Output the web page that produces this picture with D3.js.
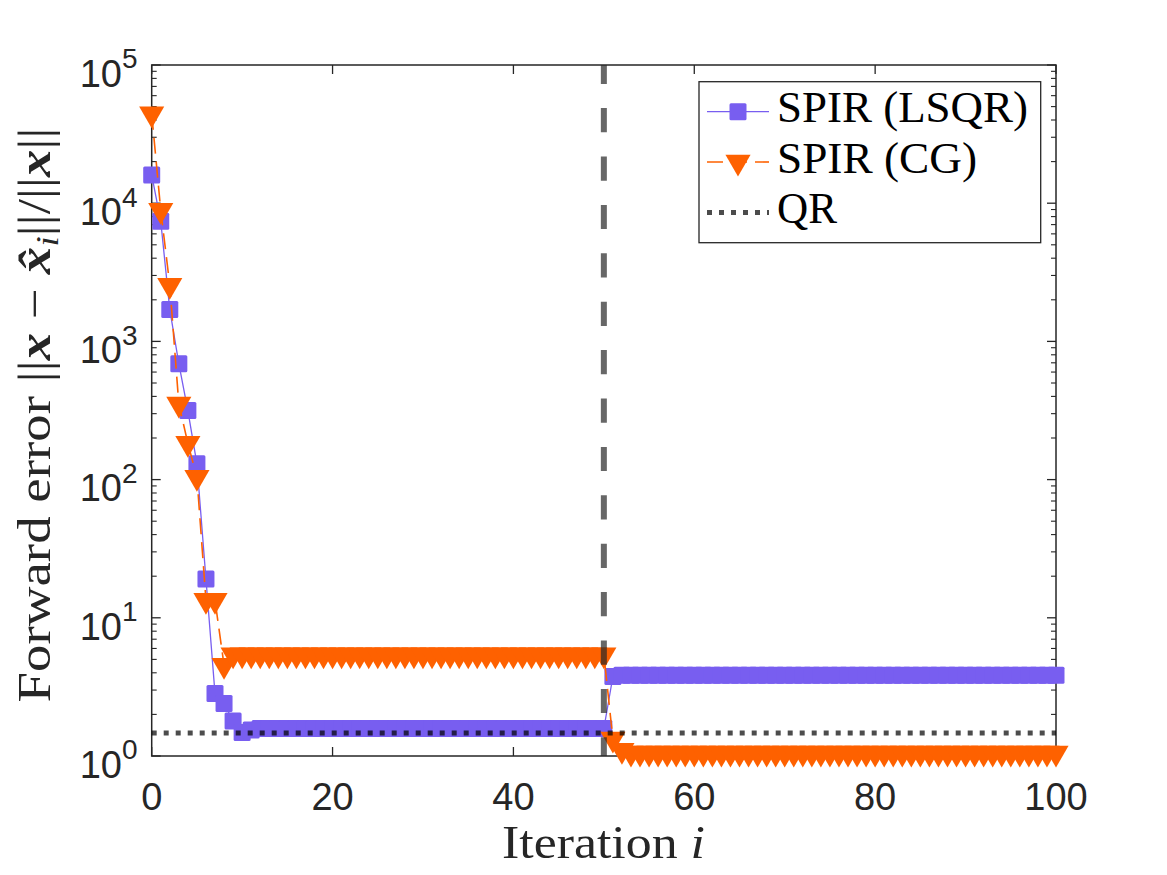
<!DOCTYPE html>
<html>
<head>
<meta charset="utf-8">
<script src="https://cdn.jsdelivr.net/npm/d3@7"></script>
<style>
  html, body { margin: 0; padding: 0; background: #ffffff; }
  svg { display: block; }
</style>
</head>
<body>
<script>
// ---------------- data ----------------
const iterations = d3.range(0, 101);
const lsqr = [
  16000, 7400, 1700, 690, 316, 130, 19.1, 2.83, 2.40, 1.79,
  1.48, 1.54, 1.58, 1.58, 1.58, 1.58, 1.58, 1.58, 1.58, 1.58,
  1.58, 1.58, 1.58, 1.58, 1.58, 1.58, 1.58, 1.58, 1.58, 1.58,
  1.58, 1.58, 1.58, 1.58, 1.58, 1.58, 1.58, 1.58, 1.58, 1.58,
  1.58, 1.58, 1.58, 1.58, 1.58, 1.58, 1.58, 1.58, 1.58, 1.58,
  1.58, 3.76, 3.84, 3.84, 3.84, 3.84, 3.84, 3.84, 3.84, 3.84,
  3.84, 3.84, 3.84, 3.84, 3.84, 3.84, 3.84, 3.84, 3.84, 3.84,
  3.84, 3.84, 3.84, 3.84, 3.84, 3.84, 3.84, 3.84, 3.84, 3.84,
  3.84, 3.84, 3.84, 3.84, 3.84, 3.84, 3.84, 3.84, 3.84, 3.84,
  3.84, 3.84, 3.84, 3.84, 3.84, 3.84, 3.84, 3.84, 3.84, 3.84,
  3.84
];
const cg = [
  44300, 8900, 2550, 353, 183, 104, 13.4, 13.4, 4.53, 5.4,
  5.4, 5.4, 5.4, 5.4, 5.4, 5.4, 5.4, 5.4, 5.4, 5.4,
  5.4, 5.4, 5.4, 5.4, 5.4, 5.4, 5.4, 5.4, 5.4, 5.4,
  5.4, 5.4, 5.4, 5.4, 5.4, 5.4, 5.4, 5.4, 5.4, 5.4,
  5.4, 5.4, 5.4, 5.4, 5.4, 5.4, 5.4, 5.4, 5.4, 5.4,
  5.4, 1.33, 1.10, 1.05, 1.05, 1.05, 1.05, 1.05, 1.05, 1.05,
  1.05, 1.05, 1.05, 1.05, 1.05, 1.05, 1.05, 1.05, 1.05, 1.05,
  1.05, 1.05, 1.05, 1.05, 1.05, 1.05, 1.05, 1.05, 1.05, 1.05,
  1.05, 1.05, 1.05, 1.05, 1.05, 1.05, 1.05, 1.05, 1.05, 1.05,
  1.05, 1.05, 1.05, 1.05, 1.05, 1.05, 1.05, 1.05, 1.05, 1.05,
  1.05
];
const qrValue = 1.47;
const switchIter = 50;
const xTicks = [0, 20, 40, 60, 80, 100];
const yExponents = [0, 1, 2, 3, 4, 5];
const legendLabels = ["SPIR (LSQR)", "SPIR (CG)", "QR"];

// ---------------- layout ----------------
const W = 1167, H = 875;
const L = 151.7, R = 1056, T = 65, B = 756;
const axisColor = "#262626";
const purple = "#785EF0", orange = "#FE6100";
const sans = "'Liberation Sans', Arial, Helvetica, sans-serif";
const serif = "'Liberation Serif', 'Times New Roman', serif";

const svg = d3.select("body").append("svg")
  .attr("width", W).attr("height", H);
svg.append("rect").attr("width", W).attr("height", H).attr("fill", "#fff");

const x = d3.scaleLinear().domain([0, 100]).range([L, R]);
const y = d3.scaleLog().domain([1, 1e5]).range([B, T]);

// ---------------- axes box + ticks ----------------
const axes = svg.append("g");
const majorLen = 9, minorLen = 5;
xTicks.forEach(v => {
  axes.append("line").attr("x1", x(v)).attr("x2", x(v)).attr("y1", B).attr("y2", B - majorLen)
    .attr("stroke", axisColor).attr("stroke-width", 1.3);
  axes.append("line").attr("x1", x(v)).attr("x2", x(v)).attr("y1", T).attr("y2", T + majorLen)
    .attr("stroke", axisColor).attr("stroke-width", 1.3);
  axes.append("text").attr("x", x(v)).attr("y", 810)
    .attr("text-anchor", "middle").attr("font-family", sans).attr("font-size", 38)
    .attr("fill", axisColor).text(v);
});
yExponents.forEach(e => {
  const v = Math.pow(10, e);
  [[L, 1], [R, -1]].forEach(([x0, dir]) => {
    axes.append("line").attr("x1", x0).attr("x2", x0 + dir * majorLen)
      .attr("y1", y(v)).attr("y2", y(v)).attr("stroke", axisColor).attr("stroke-width", 1.3);
  });
  if (e < 5) {
    for (let k = 2; k <= 9; k++) {
      const mv = k * v;
      [[L, 1], [R, -1]].forEach(([x0, dir]) => {
        axes.append("line").attr("x1", x0).attr("x2", x0 + dir * minorLen)
          .attr("y1", y(mv)).attr("y2", y(mv)).attr("stroke", axisColor).attr("stroke-width", 1.1);
      });
    }
  }
  const t = axes.append("text").attr("x", 137.5).attr("y", y(v) + 21.7)
    .attr("text-anchor", "end").attr("font-family", sans).attr("font-size", 38)
    .attr("fill", axisColor);
  t.append("tspan").text("10");
  t.append("tspan").attr("dy", -18.4).attr("font-size", 28).text(e);
});
axes.append("rect").attr("x", L).attr("y", T).attr("width", R - L).attr("height", B - T)
  .attr("fill", "none").attr("stroke", axisColor).attr("stroke-width", 1.5);

// ---------------- series ----------------
const triPath = r => `M0,${r}L${-r * 0.866},${-r / 2}L${r * 0.866},${-r / 2}Z`;
const sq = 17;
const line = d3.line().x(d => x(d[0])).y(d => y(d[1]));

const gL = svg.append("g");
gL.append("path").datum(iterations.map(i => [i, lsqr[i]])).attr("d", line)
  .attr("fill", "none").attr("stroke", purple).attr("stroke-width", 1.3);
gL.selectAll("rect").data(iterations).enter().append("rect")
  .attr("x", i => x(i) - sq / 2).attr("y", i => y(lsqr[i]) - sq / 2)
  .attr("width", sq).attr("height", sq).attr("rx", 1.5)
  .attr("fill", purple);

const gC = svg.append("g");
gC.append("path").datum(iterations.map(i => [i, cg[i]])).attr("d", line)
  .attr("fill", "none").attr("stroke", orange).attr("stroke-width", 1.6)
  .attr("stroke-dasharray", "16 8");
gC.selectAll("path.m").data(iterations).enter().append("path").attr("class", "m")
  .attr("d", triPath(14.5))
  .attr("transform", i => `translate(${x(i)},${y(cg[i])})`)
  .attr("fill", orange);

svg.append("line").attr("x1", x(0)).attr("x2", x(100))
  .attr("y1", y(qrValue)).attr("y2", y(qrValue))
  .attr("stroke", "#000").attr("stroke-opacity", 0.7).attr("stroke-width", 5)
  .attr("stroke-dasharray", "5 7");

svg.append("line").attr("x1", x(switchIter)).attr("x2", x(switchIter))
  .attr("y1", T).attr("y2", B)
  .attr("stroke", "#262626").attr("stroke-opacity", 0.7).attr("stroke-width", 6)
  .attr("stroke-dasharray", "24.2 24.2").attr("stroke-dashoffset", 5.3);

// ---------------- axis labels ----------------
svg.append("text").attr("x", 603.5).attr("y", 858.3)
  .attr("text-anchor", "middle").attr("font-family", serif).attr("font-size", 46)
  .attr("fill", axisColor)
  .attr("textLength", 203).attr("lengthAdjust", "spacingAndGlyphs")
  .call(t => {
    t.append("tspan").text("Iteration ");
    t.append("tspan").attr("font-style", "italic").text("i");
  });

const yl = svg.append("g").attr("transform", "translate(50,415) rotate(-90)");
const ylt = yl.append("text").attr("text-anchor", "middle")
  .attr("font-family", serif).attr("font-size", 46).attr("fill", axisColor);
const bars = (sel, txt) => sel.append("tspan").text(txt);
ylt.append("tspan").text("Forward error ");
bars(ylt, "||");
ylt.append("tspan").attr("font-weight", "bold").attr("font-style", "italic").text("x");
ylt.append("tspan").text(" \u2212 ");
ylt.append("tspan").attr("font-weight", "bold").attr("font-style", "italic").text("x\u0302");
ylt.append("tspan").attr("font-style", "italic").attr("font-size", 32).attr("dy", 8).text("i");
ylt.append("tspan").attr("dy", -8).text("||/||");
ylt.append("tspan").attr("font-weight", "bold").attr("font-style", "italic").text("x");
bars(ylt, "||");
const natural = ylt.node().getComputedTextLength();
const target = 575;
ylt.attr("transform", `scale(${target / natural},1)`);

// ---------------- legend ----------------
const lg = svg.append("g");
lg.append("rect").attr("x", 699).attr("y", 81.7).attr("width", 341.7).attr("height", 161)
  .attr("fill", "#fff").attr("stroke", axisColor).attr("stroke-width", 1.3);
const rows = [111.7, 162, 212.5];
const textLens = [251, 200, 60];
legendLabels.forEach((lab, k) => {
  const ry = rows[k];
  if (k === 0) {
    lg.append("line").attr("x1", 707).attr("x2", 769).attr("y1", ry).attr("y2", ry)
      .attr("stroke", purple).attr("stroke-width", 1.3);
    lg.append("rect").attr("x", 738 - sq / 2).attr("y", ry - sq / 2).attr("width", sq).attr("height", sq)
      .attr("rx", 1.5).attr("fill", purple);
  } else if (k === 1) {
    lg.append("line").attr("x1", 707).attr("x2", 769).attr("y1", ry).attr("y2", ry)
      .attr("stroke", orange).attr("stroke-width", 1.6).attr("stroke-dasharray", "16 8");
    lg.append("path").attr("d", triPath(14.5)).attr("transform", `translate(738,${ry})`)
      .attr("fill", orange);
  } else {
    lg.append("line").attr("x1", 707).attr("x2", 769).attr("y1", ry).attr("y2", ry)
      .attr("stroke", "#000").attr("stroke-opacity", 0.7).attr("stroke-width", 5)
      .attr("stroke-dasharray", "5 7");
  }
  lg.append("text").attr("x", 777).attr("y", ry + 10.5)
    .attr("font-family", serif).attr("font-size", 44).attr("fill", "#000")
    .attr("textLength", textLens[k]).attr("lengthAdjust", "spacingAndGlyphs")
    .text(lab);
});
</script>
</body>
</html>
